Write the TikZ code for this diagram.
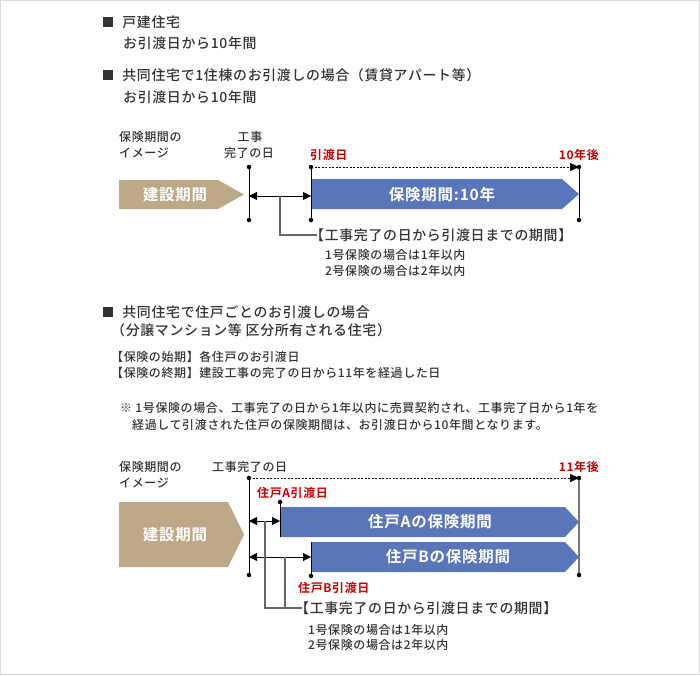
\documentclass[tikz,border=0pt]{standalone}
\usepackage{fontspec}
\setmainfont{Noto Sans CJK JP}[LetterSpace=5,UprightFont=* Medium,BoldFont=* Bold]
\usetikzlibrary{
    positioning,   % Relative positioning
    arrows.meta    % Modern arrow tips
}
\definecolor{inkgray}{HTML}{333333}
\definecolor{datered}{HTML}{CC0000}
\definecolor{buildtan}{HTML}{BDA987}
\definecolor{coverblue}{HTML}{5A76BA}
\definecolor{leadgray}{HTML}{666666}
\definecolor{endgray}{HTML}{777777}
\definecolor{framegray}{HTML}{DDDDDD}

\begin{document}
\begin{tikzpicture}[x=1pt,y=-1pt,
    txt/.style={anchor=west,inner sep=0pt,text=inkgray,font=\fontsize{13.9}{16}\selectfont},
    note/.style={anchor=west,inner sep=0pt,text=inkgray,font=\fontsize{12}{14}\selectfont},
    datelbl/.style={inner sep=0pt,text=datered,font=\fontsize{12}{14}\selectfont\bfseries},
    bartxt/.style={inner sep=0pt,text=white,font=\fontsize{15.5}{18}\selectfont\bfseries},
    bullet/.style={fill=inkgray,inner sep=0pt,minimum size=10pt},
    tick/.style={line width=0.9pt},
    pin/.style={circle,fill=black,inner sep=0pt,minimum size=4.5pt},
    span/.style={line width=0.9pt,{Triangle[length=8pt,width=8pt]}-{Triangle[length=8pt,width=8pt]}},
    reach/.style={line width=0.6pt,dash pattern=on 2pt off 1.5pt,-{Triangle[length=9pt,width=8pt]}},
    lead/.style={line width=1.2pt,draw=leadgray}]
    \useasboundingbox (0,0) rectangle (700,675);
    \draw[framegray,line width=1pt] (0.5,0.5) rectangle (699.5,674.5);

    \node[bullet] (sq1) at (108,22) {};
    \node[txt,right=9pt of sq1] (h1) {戸建住宅};
    \node[txt] (h1b) at (123,43) {お引渡日から10年間};
    \node[bullet] (sq2) at (108,75) {};
    \node[txt,right=9pt of sq2] (h2) {共同住宅で1住棟のお引渡しの場合（賃貸アパート等）};
    \node[txt] (h2b) at (123,97) {お引渡日から10年間};

    \node[note] (img1) at (119,137) {保険期間の};
    \node[note] (img1b) at (119,153) {イメージ};
    \node[note,anchor=center] (done1) at (250,137) {工事};
    \node[note,anchor=center] (done1b) at (249,153) {完了の日};
    \node[datelbl,anchor=west] (hand1) at (310,155) {引渡日};
    \node[datelbl,anchor=east] (after1) at (599,155) {10年後};

    \fill[buildtan] (119,180) -- (218,180) -- (244,194.5) -- (218,209) -- (119,209) -- cycle;
    \node[bartxt] (build1) at (175,195) {建設期間};
    \fill[coverblue] (311,179) -- (562,179) -- (579,194) -- (562,209) -- (311,209) -- cycle;
    \node[bartxt] (cover1) at (442,195) {保険期間:10年};

    \coordinate (comp1t) at (249,167);
    \coordinate (comp1b) at (249,220);
    \coordinate (del1t) at (311,167);
    \coordinate (del1b) at (311,220);
    \coordinate (end1t) at (579,167);
    \coordinate (end1b) at (579,220);
    \draw[tick] (comp1t) -- (comp1b);
    \draw[tick] (del1t) -- (del1b);
    \draw[tick] (end1t) -- (end1b);
    \draw[reach] (del1t) -- (end1t);
    \foreach \p in {comp1t,comp1b,del1t,del1b,end1t,end1b}
        \node[pin] (pin-\p) at (\p) {};

    \coordinate (gap1a) at (249,196);
    \coordinate (gap1b) at (311,196);
    \draw[span] (gap1a) -- (gap1b);
    \coordinate (lead1) at (280,196);
    \coordinate (lead1e) at (317,235);
    \draw[lead] (lead1) |- (lead1e);
    \node[txt] (per1) at (310,235) {【工事完了の日から引渡日までの期間】};
    \node[note] (rule1a) at (325,255) {1号保険の場合は1年以内};
    \node[note] (rule1b) at (325,271) {2号保険の場合は2年以内};

    \node[bullet] (sq3) at (108,312) {};
    \node[txt,right=9pt of sq3] (h3) {共同住宅で住戸ごとのお引渡しの場合};
    \node[txt] (h3b) at (111,330) {（分譲マンション等 区分所有される住宅）};
    \node[note] (start) at (111,357) {【保険の始期】各住戸のお引渡日};
    \node[note] (finish) at (111,373) {【保険の終期】建設工事の完了の日から11年を経過した日};
    \node[note] (rem1) at (120,408) {※ 1号保険の場合、工事完了の日から1年以内に売買契約され、工事完了日から1年を};
    \node[note] (rem2) at (132,425) {経過して引渡された住戸の保険期間は、お引渡日から10年間となります。};

    \node[note] (img2) at (119,467) {保険期間の};
    \node[note] (img2b) at (119,483) {イメージ};
    \node[note] (done2) at (212,467) {工事完了の日};
    \node[datelbl,anchor=east] (after2) at (599,467) {11年後};
    \node[datelbl,anchor=west] (handA) at (257,493) {住戸A引渡日};
    \node[datelbl,anchor=west] (handB) at (298,588) {住戸B引渡日};

    \fill[buildtan] (119,502) -- (228,502) -- (244,534.5) -- (228,567) -- (119,567) -- cycle;
    \node[bartxt] (build2) at (175,535) {建設期間};
    \fill[coverblue] (280,507) -- (565,507) -- (579,522) -- (565,537) -- (280,537) -- cycle;
    \node[bartxt] (coverA) at (430,522) {住戸Aの保険期間};
    \fill[coverblue] (311,542) -- (565,542) -- (579,557) -- (565,572) -- (311,572) -- cycle;
    \node[bartxt] (coverB) at (448,557) {住戸Bの保険期間};

    \coordinate (comp2t) at (249,478);
    \coordinate (comp2b) at (249,575);
    \coordinate (end2t) at (579,478);
    \coordinate (end2b) at (579,575);
    \coordinate (delAt) at (280,502);
    \coordinate (delAb) at (280,537);
    \coordinate (delBt) at (311,542);
    \coordinate (delBb) at (311,576);
    \draw[tick] (comp2t) -- (comp2b);
    \draw[tick,draw=endgray,line width=1.5pt] (end2t) -- (end2b);
    \draw[tick] (delAt) -- (delAb);
    \draw[tick] (delBt) -- (delBb);
    \draw[reach] (comp2t) -- (end2t);
    \foreach \p in {comp2t,comp2b,end2t,end2b,delAt,delBb}
        \node[pin] (pin-\p) at (\p) {};

    \coordinate (gapAa) at (249,521);
    \coordinate (gapAb) at (280,521);
    \coordinate (gapBa) at (249,557);
    \coordinate (gapBb) at (311,557);
    \draw[span] (gapAa) -- (gapAb);
    \draw[span] (gapBa) -- (gapBb);
    \coordinate (leadA) at (265,521);
    \coordinate (leadB) at (285,557);
    \coordinate (lead2e) at (302,608);
    \draw[lead] (leadA) |- (lead2e);
    \draw[lead] (leadB) -- (leadB |- lead2e);
    \node[txt] (per2) at (295,608) {【工事完了の日から引渡日までの期間】};
    \node[note] (rule2a) at (308,630) {1号保険の場合は1年以内};
    \node[note] (rule2b) at (308,645) {2号保険の場合は2年以内};
\end{tikzpicture}
\end{document}
